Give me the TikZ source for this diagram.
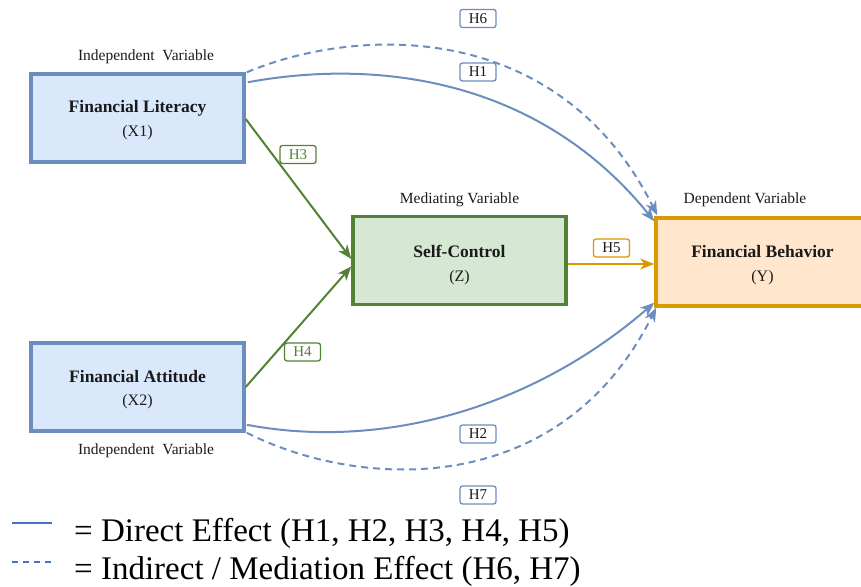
\documentclass[tikz,border=0pt]{standalone}
\usepackage{fontspec}
\setmainfont{Liberation Serif}
\usetikzlibrary{arrows.meta,calc}
\definecolor{bB}{HTML}{6C8EBF}
\definecolor{bF}{HTML}{DAE8FC}
\definecolor{gB}{HTML}{548235}
\definecolor{gF}{HTML}{D5E8D4}
\definecolor{oB}{HTML}{D79B00}
\definecolor{oF}{HTML}{FFE6CC}
\definecolor{lgB}{HTML}{4472C4}
\definecolor{txt}{HTML}{1A1A1A}
\begin{document}
\begin{tikzpicture}[x=1pt,y=-1pt,
  box/.style={draw, line width=3.5pt, minimum width=213pt, minimum height=88pt, inner sep=0pt},
  ttl/.style={font=\fontsize{17.5}{20}\selectfont\bfseries, text=txt, inner sep=0pt},
  sub/.style={font=\fontsize{16}{18}\selectfont, text=txt, inner sep=0pt},
  toplab/.style={font=\fontsize{15.5}{18}\selectfont, text=txt, inner sep=0pt},
  hl/.style={draw, rounded corners=2.5pt, fill=white, line width=1.3pt, minimum width=36pt, minimum height=18pt, inner sep=0pt, font=\fontsize{15}{15}\selectfont},
  conn/.style={line width=2pt, -{Stealth[length=14pt,width=11pt,inset=4pt]}},
  dsh/.style={dash pattern=on 7pt off 5pt}
]
\useasboundingbox (0,0) rectangle (861,586);

% boxes
\node[box, draw=bB, fill=bF] (fl) at (137.5,118) {};
\node[box, draw=bB, fill=bF] (fa) at (137.5,387) {};
\node[box, draw=gB, fill=gF] (sc) at (459.5,260.5) {};
\node[box, draw=oB, fill=oF] (fb) at (762.5,262) {};

% box texts
\node[ttl] (flt) at ($(fl.center)+(0,-10)$) {Financial Literacy};
\node[sub] (fls) at ($(fl.center)+(0,15)$) {(X1)};
\node[ttl] (fat) at ($(fa.center)+(0,-10)$) {Financial Attitude};
\node[sub] (fas) at ($(fa.center)+(0,15)$) {(X2)};
\node[ttl] (sct) at ($(sc.center)+(0,-9)$) {Self-Control};
\node[sub] (scs) at ($(sc.center)+(0,17)$) {(Z)};
\node[ttl] (fbt) at ($(fb.center)+(0,-10)$) {Financial Behavior};
\node[sub] (fbs) at ($(fb.center)+(0,16)$) {(Y)};

% variable labels
\node[toplab] (l1) at (146,57) {Independent\ \ Variable};
\node[toplab] (l2) at (146,451) {Independent\ \ Variable};
\node[toplab] (l3) at (459.5,200) {Mediating Variable};
\node[toplab] (l4) at (745,200) {Dependent Variable};

% connectors
\draw[conn, bB, dsh] ($(fl.north east)+(1,0)$) .. controls (360,25) and (560,20) .. ($(fb.north west)+(3,-1)$);
\draw[conn, bB] ($(fl.north east)+(2,10)$) .. controls (380,58) and (540,80) .. ($(fb.north west)+(0,5)$);
\draw[conn, bB] ($(fa.south east)+(1,-8)$) .. controls (380,450) and (530,410) .. ($(fb.south west)+(0,-5)$);
\draw[conn, bB, dsh] ($(fa.south east)+(1,0)$) .. controls (360,490) and (560,500) .. ($(fb.south west)+(2,0)$);
\draw[conn, gB] ($(fl.east)+(0,1)$) -- ($(sc.west)+(0,-1.5)$);
\draw[conn, gB] (fa.east) -- ($(sc.west)+(0,6)$);
\draw[conn, oB] ($(sc.east)+(0,3.5)$) -- ($(fb.west)+(0,2)$);

% hypothesis labels
\node[hl, draw=bB, text=txt] (h6) at (478,18.5) {H6};
\node[hl, draw=bB, text=txt] (h1) at (478,72) {H1};
\node[hl, draw=gB, text=gB] (h3) at (298,154.5) {H3};
\node[hl, draw=gB, text=gB] (h4) at (302.5,352) {H4};
\node[hl, draw=oB, text=txt] (h5) at (611.5,248) {H5};
\node[hl, draw=bB, text=txt] (h2) at (478,434) {H2};
\node[hl, draw=bB, text=txt] (h7) at (478,495) {H7};

% legend
\draw[lgB, line width=2.5pt] (12,523) -- (52,523);
\draw[lgB, line width=2pt, dash pattern=on 6pt off 5pt] (12,562) -- (52,562);
\node[anchor=base west, inner sep=0pt, font=\fontsize{33}{36}\selectfont, text=black] (lg1) at (74,541) {= Direct Effect (H1, H2, H3, H4, H5)};
\node[anchor=base west, inner sep=0pt, font=\fontsize{33}{36}\selectfont, text=black] (lg2) at (74,579) {= Indirect / Mediation Effect (H6, H7)};
\end{tikzpicture}
\end{document}
